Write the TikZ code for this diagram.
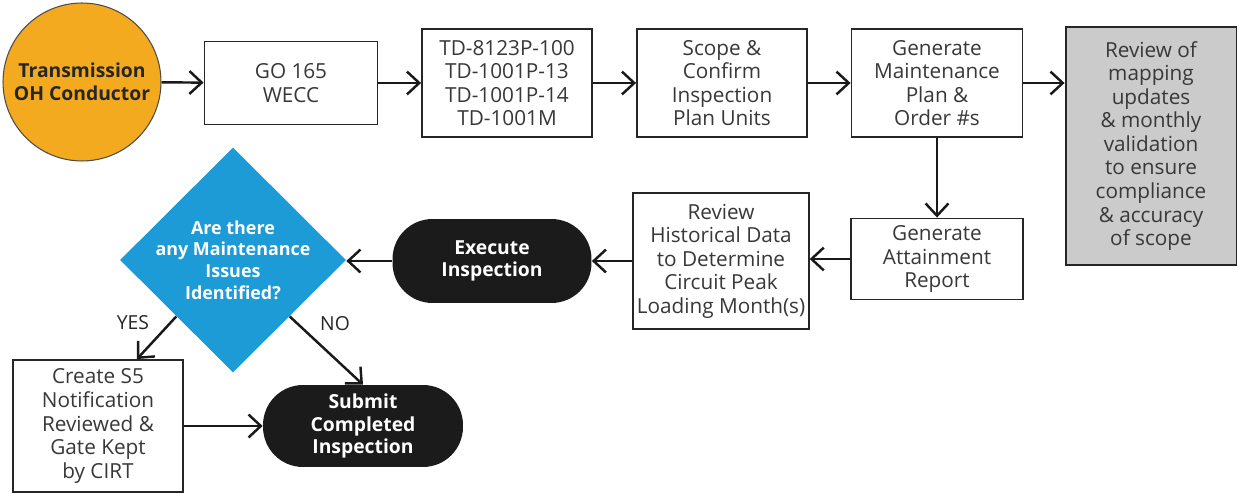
\documentclass[tikz,border=0pt]{standalone}
\usepackage{fontspec}
\setmainfont{Open Sans}
\usetikzlibrary{positioning, arrows.meta, shapes.geometric}
\definecolor{condorange}{HTML}{F4AA1E}
\definecolor{askblue}{HTML}{1C9BD7}
\definecolor{reviewgray}{HTML}{CBCBCB}
\definecolor{pillblack}{HTML}{1B1B1B}
\definecolor{boxtext}{HTML}{383838}

\begin{document}
\begin{tikzpicture}[x=0.02cm, y=-0.02cm,
  box/.style={draw=black!85, line width=1.1pt, fill=white, text=boxtext, align=center, inner sep=2pt, font=\fontsize{11.8}{13.4}\selectfont},
  pill/.style={fill=pillblack, text=white, align=center, rounded corners=0.8cm, font=\bfseries\fontsize{11}{13}\selectfont},
  flow/.style={-{Straight Barb[length=7pt,width=13pt]}, line width=1.4pt, black!90},
  tag/.style={text=black!85, font=\fontsize{11}{13}\selectfont}]
\useasboundingbox (0,0) rectangle (1239,493);
\node[circle, fill=condorange, draw=black!70, line width=0.6pt, minimum size=3.16cm, text=black!85, align=center, font=\bfseries\fontsize{11}{13}\selectfont] at (82,82) (cond) {Transmission\\OH Conductor};
\node[box, minimum width=3.46cm, minimum height=1.66cm] at (291,83) (go) {GO 165\\WECC};
\node[box, minimum width=3.4cm, minimum height=2.16cm] at (507,83) (td) {TD-8123P-100\\TD-1001P-13\\TD-1001P-14\\TD-1001M};
\node[box, minimum width=3.4cm, minimum height=2.16cm] at (722,83) (scope) {Scope \&\\Confirm\\Inspection\\Plan Units};
\node[box, minimum width=3.42cm, minimum height=2.16cm] at (937,83) (plan) {Generate\\Maintenance\\Plan \&\\Order \#s};
\node[box, fill=reviewgray, minimum width=3.42cm, minimum height=4.76cm] at (1151,146) (check) {Review of\\mapping\\updates\\\& monthly\\validation\\to ensure\\compliance\\\& accuracy\\of scope};
\node[box, minimum width=3.44cm, minimum height=1.62cm] at (937,259) (attain) {Generate\\Attainment\\Report};
\node[box, minimum width=3.42cm, minimum height=2.72cm] at (721,261) (hist) {Review\\Historical Data\\to Determine\\Circuit Peak\\Loading Month(s)};
\node[pill, minimum width=3.98cm, minimum height=1.68cm] at (492,261) (exec) {Execute\\Inspection};
\node[diamond, fill=askblue, minimum width=4.52cm, minimum height=4.5cm, inner sep=0pt] at (233,260) (ask) {};
\node[text=white, align=center, font=\bfseries\fontsize{10.2}{12.4}\selectfont] at (ask) (asktext) {Are there\\any Maintenance\\Issues\\Identified?};
\node[box, minimum width=3.4cm, minimum height=2.64cm] at (98,426) (create) {Create S5\\Notification\\Reviewed \&\\Gate Kept\\by CIRT};
\node[pill, minimum width=4cm, minimum height=1.64cm] at (363,426) (submit) {Submit\\Completed\\Inspection};
\node[tag] at (133,323) (yes) {YES};
\node[tag] at (335,324) (no) {NO};
\draw (cond) edge[flow] (go);
\draw (go) edge[flow] (td);
\draw (td) edge[flow] (scope);
\draw (scope) edge[flow] (plan);
\draw (plan.east) edge[flow] (plan.east -| check.west);
\draw (plan) edge[flow] (attain);
\draw (attain.west) edge[flow] (attain.west -| hist.east);
\draw (hist.west) edge[flow] (hist.west -| exec.east);
\draw (exec.west) edge[flow] (exec.west -| ask.east);
\draw (ask.south west) edge[flow] ([xshift=0.78cm]create.north);
\draw (ask.south east) edge[flow] (submit.north);
\draw (create) edge[flow] (submit);
\end{tikzpicture}
\end{document}
